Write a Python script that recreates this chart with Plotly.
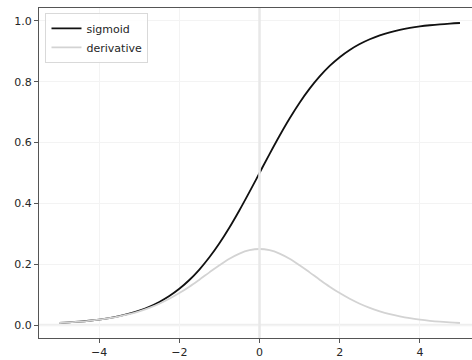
import plotly.graph_objects as go

x_vals = [-5.0, -4.75, -4.5, -4.25, -4.0, -3.75, -3.5, -3.25, -3.0, -2.75, -2.5, -2.25, -2.0,
          -1.75, -1.5, -1.25, -1.0, -0.75, -0.5, -0.25, 0.0, 0.25, 0.5, 0.75, 1.0, 1.25, 1.5,
          1.75, 2.0, 2.25, 2.5, 2.75, 3.0, 3.25, 3.5, 3.75, 4.0, 4.25, 4.5, 4.75, 5.0]

sigmoid_vals = [0.0067, 0.0086, 0.0110, 0.0141, 0.0180, 0.0230, 0.0293, 0.0373, 0.0474, 0.0601,
                0.0759, 0.0954, 0.1192, 0.1480, 0.1824, 0.2227, 0.2689, 0.3208, 0.3775, 0.4378,
                0.5000, 0.5622, 0.6225, 0.6792, 0.7311, 0.7773, 0.8176, 0.8520, 0.8808, 0.9046,
                0.9241, 0.9399, 0.9526, 0.9627, 0.9707, 0.9770, 0.9820, 0.9859, 0.9890, 0.9914, 0.9933]

derivative_vals = [0.0066, 0.0085, 0.0109, 0.0139, 0.0177, 0.0225, 0.0285, 0.0359, 0.0452, 0.0565,
                   0.0701, 0.0863, 0.1050, 0.1261, 0.1492, 0.1731, 0.1966, 0.2179, 0.2350, 0.2461,
                   0.2500, 0.2461, 0.2350, 0.2179, 0.1966, 0.1731, 0.1492, 0.1261, 0.1050, 0.0863,
                   0.0701, 0.0565, 0.0452, 0.0359, 0.0285, 0.0225, 0.0177, 0.0139, 0.0109, 0.0085, 0.0066]

x_ticks = [-4, -2, 0, 2, 4]
x_tick_labels = ["\u22124", "\u22122", "0", "2", "4"]
y_ticks = [0.0, 0.2, 0.4, 0.6, 0.8, 1.0]
y_tick_labels = ["0.0", "0.2", "0.4", "0.6", "0.8", "1.0"]

fig = go.Figure()
fig.add_trace(go.Scatter(x=x_vals, y=sigmoid_vals, mode="lines", name="sigmoid",
                         line=dict(color="#111111", width=1.8, shape="spline")))
fig.add_trace(go.Scatter(x=x_vals, y=derivative_vals, mode="lines", name="derivative",
                         line=dict(color="#d3d3d3", width=1.8, shape="spline")))

# zero reference lines
fig.add_shape(type="line", xref="x", yref="paper", x0=0, x1=0, y0=0, y1=1,
              line=dict(color="#e8e8e8", width=2.5), layer="above")
fig.add_shape(type="line", xref="paper", yref="y", x0=0, x1=1, y0=0, y1=0,
              line=dict(color="#eeeeee", width=2.5), layer="below")

fig.update_layout(
    width=472, height=360,
    margin=dict(l=39, r=0, t=8, b=22),
    paper_bgcolor="white", plot_bgcolor="white",
    font=dict(family="DejaVu Sans", size=11, color="#262626"),
    showlegend=True,
    legend=dict(x=0.015, y=0.985, xanchor="left", yanchor="top",
                bgcolor="rgba(255,255,255,0.8)", bordercolor="#d9d9d9", borderwidth=1,
                font=dict(size=11, color="#262626"), tracegroupgap=0,
                itemwidth=30),
)
fig.update_xaxes(range=[-5.5, 5.3], tickmode="array", tickvals=x_ticks, ticktext=x_tick_labels,
                 showgrid=True, gridcolor="#f3f3f3", gridwidth=1, zeroline=False,
                 showline=True, linecolor="#555555", linewidth=1.2, mirror=True,
                 ticks="outside", ticklen=4, tickcolor="#555555", tickwidth=1,
                 tickfont=dict(size=11))
fig.update_yaxes(range=[-0.0427, 1.0426], tickmode="array", tickvals=y_ticks, ticktext=y_tick_labels,
                 showgrid=True, gridcolor="#f3f3f3", gridwidth=1, zeroline=False,
                 showline=True, linecolor="#555555", linewidth=1.2, mirror=False,
                 ticks="outside", ticklen=4, tickcolor="#555555", tickwidth=1,
                 tickfont=dict(size=11))

fig.write_html("out.html")
